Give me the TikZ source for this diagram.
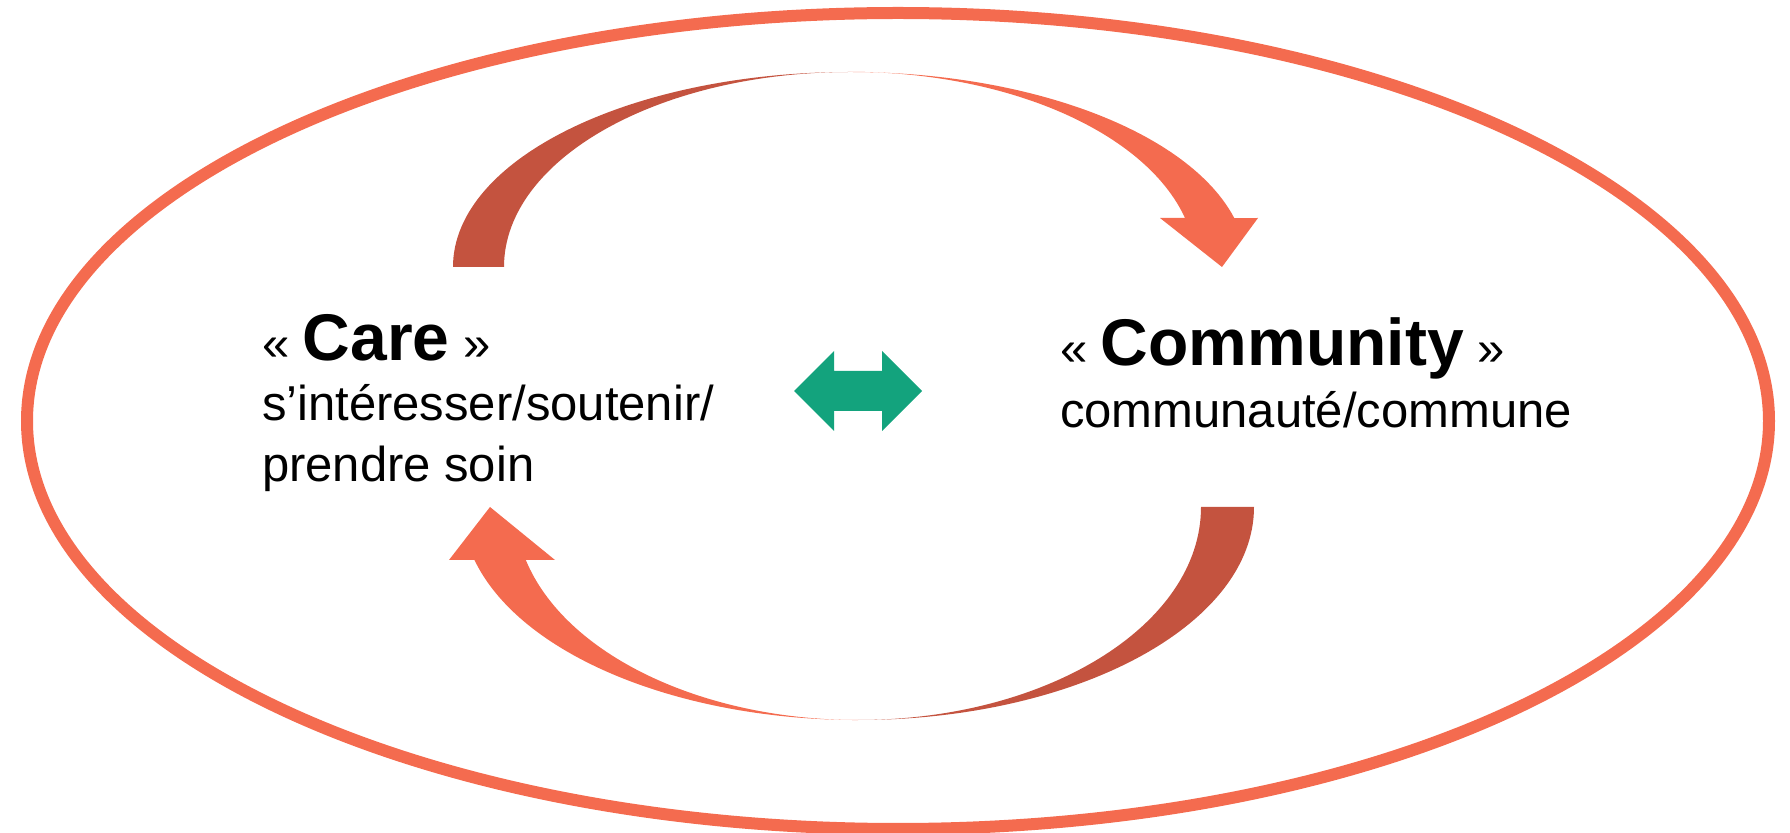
\documentclass[tikz,border=0pt]{standalone}
\usepackage{fontspec}
\setmainfont{Liberation Sans}
\definecolor{coral}{HTML}{F46B4F}
\definecolor{brick}{HTML}{C4533F}
\definecolor{jade}{HTML}{13A37D}
\tikzstyle{ring}=[draw=coral, line width=6pt]
\tikzstyle{back}=[fill=brick]
\tikzstyle{front}=[fill=coral]
\tikzstyle{swap}=[fill=jade]
\tikzstyle{txt}=[anchor=base west, inner sep=0pt, outer sep=0pt,
                 font=\fontsize{24.5}{30}\selectfont]
\newcommand{\headword}[1]{{\bfseries\fontsize{33}{40}\selectfont #1}}

\begin{document}
\begin{tikzpicture}[x=0.5pt, y=-0.5pt]
    \useasboundingbox (0,0) rectangle (1790,833);
    % outer ring
    \draw [ring] (898,421) ellipse [x radius=871, y radius=408];

    % top arrow, care -> community
    \fill [back] (453,267)
      arc [start angle=180, end angle=270, x radius=397, y radius=195]
      arc [start angle=270, end angle=180, x radius=346, y radius=195] -- cycle;
    \fill [front] (850,72)
      arc [start angle=270, end angle=345.5, x radius=397, y radius=195]
      -- (1258,218) -- (1222,267) -- (1160,218) -- (1185,218)
      arc [start angle=345.5, end angle=270, x radius=346, y radius=195] -- cycle;

    % bottom arrow, community -> care
    \fill [back] (1254,507)
      arc [start angle=0, end angle=90, x radius=396, y radius=213]
      arc [start angle=90, end angle=0, x radius=343, y radius=213] -- cycle;
    \fill [front] (858,720)
      arc [start angle=90, end angle=165.6, x radius=396, y radius=213]
      -- (449,560) -- (490,507) -- (555,560) -- (525.8,560)
      arc [start angle=165.6, end angle=90, x radius=343, y radius=213] -- cycle;

    % double arrow in the middle
    \fill [swap] (794,391) -- (834,351) -- (834,371) -- (882,371) -- (882,351)
      -- (922,391) -- (882,431) -- (882,411) -- (834,411) -- (834,431) -- cycle;

    \node (care)  at (262,361) [txt]{« \headword{Care} »};
    \node (care1) at (262,421) [txt]{s’intéresser/soutenir/};
    \node (care2) at (262,482) [txt]{prendre soin};
    \node (comm)  at (1060,366) [txt]{« \headword{Community} »};
    \node (comm1) at (1060,428) [txt]{communauté/commune};
\end{tikzpicture}
\end{document}
